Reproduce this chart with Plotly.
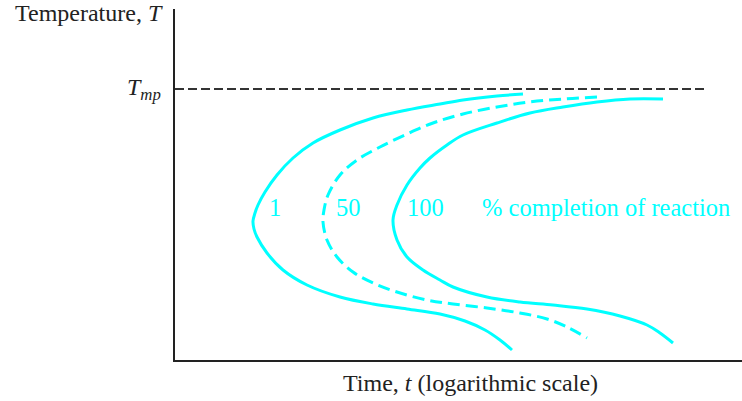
import plotly.graph_objects as go

# Curves: (log-time position, temperature position), arbitrary units
c1_x = [348, 322, 288, 265, 232, 198, 165, 138, 118, 102, 90, 83, 80, 78, 79, 82, 92, 108, 132, 165, 198, 232, 265, 290, 310, 325, 337]
c1_y = [266, 264, 260, 256, 250, 242, 230, 217, 202, 185, 168, 155, 147, 139, 131, 123, 107, 90, 75, 63, 56, 51, 46, 39, 30, 20, 10]

c50_x = [422, 388, 355, 322, 288, 258, 232, 205, 182, 165, 153, 149, 148, 152, 162, 178, 198, 222, 252, 278, 312, 345, 372, 392, 412]
c50_y = [263, 261, 258, 253, 246, 237, 226, 213, 200, 185, 165, 150, 138, 120, 103, 88, 77, 68, 60, 56, 52, 47, 41, 33, 22]

c100_x = [488, 455, 422, 388, 355, 322, 288, 272, 255, 245, 232, 222, 218, 222, 232, 248, 265, 278, 312, 345, 378, 412, 445, 472, 485, 498]
c100_y = [261, 261, 258, 253, 247, 237, 225, 215, 202, 192, 175, 155, 140, 120, 103, 90, 80, 73, 63, 58, 55, 51, 44, 35, 27, 17]

tmp_level = 271
tmp_end = 530
curve_labels = ["1", "50", "100"]
curve_label_x = [100, 173, 250]
label_y = 153

X_SPAN = 567
Y_SPAN = 351

CYAN = "#00FFFF"
INK = "#222222"
FONT = "Liberation Serif"
FS = 24
FS_C = 24.5

fig = go.Figure()
fig.add_trace(go.Scatter(x=c1_x, y=c1_y, mode="lines",
                         line=dict(color=CYAN, width=3, shape="spline", smoothing=1.0)))
fig.add_trace(go.Scatter(x=c50_x, y=c50_y, mode="lines",
                         line=dict(color=CYAN, width=3, shape="spline", smoothing=1.0, dash="12px,6px")))
fig.add_trace(go.Scatter(x=c100_x, y=c100_y, mode="lines",
                         line=dict(color=CYAN, width=3, shape="spline", smoothing=1.0)))

# melting point dashed line
fig.add_trace(go.Scatter(x=[0, tmp_end], y=[tmp_level, tmp_level], mode="lines",
                         line=dict(color="#333333", width=2, dash="9px,4px")))

for lab, lx in zip(curve_labels, curve_label_x):
    fig.add_annotation(x=lx, y=label_y, text=lab, showarrow=False,
                       font=dict(family=FONT, size=FS_C, color=CYAN))
fig.add_annotation(x=305, y=label_y, text="% completion of reaction", showarrow=False,
                   xanchor="left", font=dict(family=FONT, size=FS_C, color=CYAN))

fig.add_annotation(xref="paper", yref="paper", x=-12 / X_SPAN, y=tmp_level / Y_SPAN,
                   text="<i>T</i><sub><i>mp</i></sub>", showarrow=False,
                   xanchor="right", yanchor="middle",
                   font=dict(family=FONT, size=FS, color=INK))
fig.add_annotation(xref="paper", yref="paper", x=-10 / X_SPAN, y=347 / Y_SPAN,
                   text="Temperature, <i>T</i>", showarrow=False,
                   xanchor="right", yanchor="middle",
                   font=dict(family=FONT, size=FS, color=INK))
fig.add_annotation(xref="paper", yref="paper", x=295 / X_SPAN, y=-23 / Y_SPAN,
                   text="Time, <i>t</i> (logarithmic scale)", showarrow=False,
                   xanchor="center", yanchor="middle",
                   font=dict(family=FONT, size=FS, color=INK))

fig.update_xaxes(range=[0, X_SPAN], showgrid=False, zeroline=False, showticklabels=False,
                 ticks="", showline=True, linecolor=INK, linewidth=2)
fig.update_yaxes(range=[0, Y_SPAN], showgrid=False, zeroline=False, showticklabels=False,
                 ticks="", showline=True, linecolor=INK, linewidth=2)
fig.update_layout(width=742, height=401, margin=dict(l=175, r=0, t=9, b=41),
                  paper_bgcolor="white", plot_bgcolor="white", showlegend=False)

fig.write_html("out.html", config={"displayModeBar": False},
               post_script="document.body.style.margin='0';document.body.style.overflow='hidden';")
